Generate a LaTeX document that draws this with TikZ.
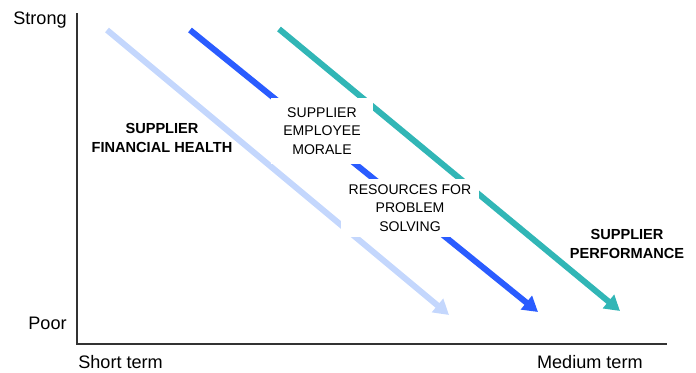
\documentclass[tikz,border=0pt]{standalone}
\usepackage{fontspec}
\setmainfont{Liberation Sans}
\usepackage{xcolor}
\usetikzlibrary{arrows.meta}

\definecolor{paleblue}{HTML}{C4D7FD}
\definecolor{brightblue}{HTML}{2A5CFF}
\definecolor{teal}{HTML}{31B6B6}
\definecolor{axisgray}{HTML}{333333}

\begin{document}
\begin{tikzpicture}[
    x=0.02cm, y=-0.02cm,
    every node/.style={font=\fontsize{8}{10.5}\selectfont, text=black},
    trend/.style={line width=3.4pt, -{Triangle[length=0.3cm, width=0.34cm]}},
    axislabel/.style={font=\fontsize{10.3}{12}\selectfont, inner sep=0pt},
    tag/.style={align=center},
    gap/.style={tag, fill=white, inner xsep=0.25cm, inner ysep=0.2cm},
    bold/.style={tag, font=\fontsize{8.3}{10.5}\selectfont\bfseries}
]
\useasboundingbox (0,0) rectangle (696,372);

% axes
\coordinate (top) at (77,13);
\coordinate (origin) at (77,344);
\coordinate (right) at (667,344);
\draw[axisgray, line width=0.85pt] (top) -- (origin) -- (right);

\node[axislabel, anchor=east] (strong) at (67,20) {Strong};
\node[axislabel, anchor=east] (poor) at (67,323) {Poor};
\node[axislabel, anchor=base west] (short) at (78,368) {Short term};
\node[axislabel, anchor=base east] (medium) at (643,368) {Medium term};

% the three declining trends
\coordinate (health-s) at (107,30);
\coordinate (health-e) at (449,315);
\coordinate (morale-s) at (190,30);
\coordinate (morale-e) at (538,312);
\coordinate (perf-s) at (279,29);
\coordinate (perf-e) at (620,311);

\draw[trend, paleblue] (health-s) -- (health-e);
\draw[trend, brightblue] (morale-s) -- (morale-e);
\draw[trend, teal] (perf-s) -- (perf-e);

% labels (white boxes break the lines)
\node[gap] (morale) at (322,131) {SUPPLIER\\EMPLOYEE\\MORALE};
\node[gap, inner xsep=0.15cm, inner ysep=0.12cm] (resources) at (410,208) {RESOURCES FOR\\PROBLEM\\SOLVING};
\node[bold] (health) at (162,138) {SUPPLIER\\FINANCIAL HEALTH};
\node[bold] (perf) at (627,244) {SUPPLIER\\PERFORMANCE};

\end{tikzpicture}
\end{document}
